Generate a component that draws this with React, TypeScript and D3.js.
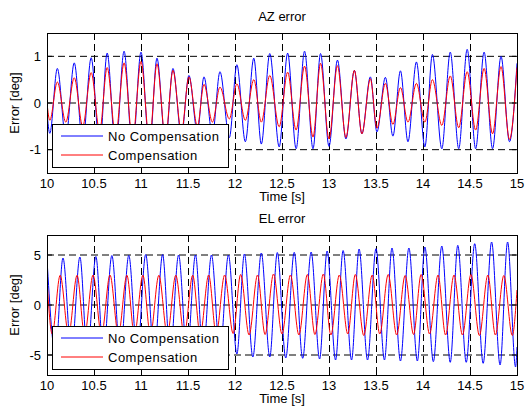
import { useEffect, useRef } from 'react'
import * as d3 from 'd3'

// AZ error: extrema (time [s], error [deg])
const azTime = [
  10.0, 10.03, 10.11, 10.2, 10.29, 10.38, 10.47, 10.56, 10.64, 10.73, 10.82, 10.91, 11.0, 11.09, 11.17,
  11.26, 11.34, 11.43, 11.51, 11.6, 11.67, 11.76, 11.84, 11.94, 12.02, 12.11, 12.2, 12.28, 12.37, 12.47,
  12.56, 12.65, 12.74, 12.83, 12.91, 13.0, 13.09, 13.18, 13.27, 13.35, 13.44, 13.51, 13.6, 13.68, 13.76,
  13.84, 13.93, 14.02, 14.1, 14.2, 14.29, 14.38, 14.47, 14.56, 14.65, 14.74, 14.83, 14.92, 15.0,
]
const azNoComp = [
  -0.2, -0.65, 0.74, -0.75, 0.86, -0.85, 0.97, -0.95, 1.07, -1.0, 1.11, -1.02, 1.09, -0.98, 0.96,
  -0.85, 0.74, -0.7, 0.59, -0.62, 0.56, -0.68, 0.67, -0.74, 0.82, -0.83, 0.96, -0.88, 1.06, -0.94,
  1.07, -0.98, 1.11, -0.98, 1.06, -0.93, 0.92, -0.77, 0.7, -0.66, 0.56, -0.62, 0.55, -0.71, 0.69,
  -0.83, 0.88, -0.94, 1.04, -0.98, 1.09, -0.98, 1.15, -0.98, 1.09, -0.98, 1.0, -0.83, 0.85,
]
const azComp = [
  0.0, -0.37, 0.45, -0.41, 0.54, -0.5, 0.65, -0.6, 0.76, -0.7, 0.86, -0.78, 0.89, -0.8, 0.84,
  -0.75, 0.7, -0.62, 0.56, -0.5, 0.4, -0.41, 0.34, -0.34, 0.41, -0.37, 0.5, -0.41, 0.59, -0.51,
  0.66, -0.58, 0.79, -0.73, 0.85, -0.77, 0.8, -0.74, 0.7, -0.66, 0.52, -0.54, 0.42, -0.46, 0.33,
  -0.41, 0.42, -0.41, 0.5, -0.48, 0.58, -0.53, 0.67, -0.58, 0.74, -0.66, 0.78, -0.78, 0.76,
]

// EL error: no compensation extrema
const elTimeNoComp = [
  10.0, 10.09, 10.17, 10.26, 10.35, 10.43, 10.52, 10.6, 10.69, 10.78, 10.87, 10.96, 11.05, 11.14, 11.23,
  11.31, 11.4, 11.49, 11.58, 11.66, 11.75, 11.84, 11.93, 12.02, 12.1, 12.19, 12.28, 12.37, 12.45, 12.54,
  12.63, 12.72, 12.81, 12.9, 12.98, 13.07, 13.15, 13.24, 13.32, 13.41, 13.5, 13.59, 13.67, 13.76, 13.85,
  13.94, 14.02, 14.11, 14.2, 14.29, 14.37, 14.46, 14.55, 14.64, 14.73, 14.82, 14.9, 14.985, 15.0,
]
const elNoComp = [
  4.6, -4.9, 4.7, -4.9, 4.8, -5.0, 4.85, -5.0, 4.95, -5.0, 4.97, -5.0, 5.05, -5.0, 5.05,
  -5.0, 5.0, -5.0, 5.0, -5.0, 5.0, -4.9, 5.0, -4.9, 5.1, -5.2, 5.2, -5.2, 5.25, -5.3,
  5.27, -5.33, 5.3, -5.4, 5.4, -5.5, 5.45, -5.5, 5.6, -5.5, 5.63, -5.5, 5.7, -5.6, 5.7,
  -5.6, 5.8, -5.67, 5.9, -5.73, 5.97, -5.73, 6.13, -5.83, 6.3, -6.0, 6.3, -6.2, -4.2,
]

// EL error: compensation extrema (leads the uncompensated signal a little)
const elTimeComp = [
  10.0, 10.055, 10.14, 10.23, 10.32, 10.4, 10.49, 10.58, 10.67, 10.76, 10.85, 10.93, 11.02, 11.1, 11.19,
  11.28, 11.37, 11.46, 11.55, 11.63, 11.72, 11.8, 11.89, 11.98, 12.06, 12.15, 12.24, 12.32, 12.41, 12.5,
  12.59, 12.68, 12.77, 12.85, 12.94, 13.02, 13.11, 13.2, 13.28, 13.37, 13.46, 13.54, 13.63, 13.72, 13.81,
  13.9, 13.98, 14.07, 14.16, 14.24, 14.33, 14.42, 14.51, 14.6, 14.69, 14.77, 14.86, 14.95, 15.0,
]
const elComp = [
  2.5, -2.9, 2.97, -2.95, 2.97, -3.0, 3.0, -3.0, 3.0, -2.95, 2.97, -3.0, 2.97, -3.0, 2.97,
  -2.95, 2.97, -3.0, 2.97, -2.95, 3.0, -2.9, 3.0, -2.85, 3.05, -3.0, 3.0, -2.95, 3.1, -2.9,
  3.0, -3.0, 3.05, -2.95, 3.1, -3.0, 3.0, -2.9, 3.05, -3.05, 3.0, -2.9, 3.05, -3.0, 2.95,
  -2.95, 3.05, -2.9, 3.0, -3.0, 3.0, -3.0, 3.05, -3.05, 3.0, -3.0, 2.95, -3.05, 1.5,
]

const xTicks = [10, 10.5, 11, 11.5, 12, 12.5, 13, 13.5, 14, 14.5, 15]
const azTicks = [-1, 0, 1]
const elTicks = [-5, 0, 5]
const legendLabels = ['No Compensation', 'Compensation']
const seriesColors = ['#0000ff', '#ff0000']

const FONT = '"Liberation Sans", Arial, sans-serif'

type Panel = {
  id: string
  title: string
  top: number
  bottom: number
  yDomain: [number, number]
  yTicks: number[]
  series: { t: number[]; v: number[] }[]
}

function drawPanel(svg: any, x: d3.ScaleLinear<number, number>, p: Panel) {
  const [x0, x1] = x.range()
  const y = d3.scaleLinear().domain(p.yDomain).range([p.bottom, p.top])
  const g = svg.append('g')

  svg
    .append('clipPath')
    .attr('id', p.id)
    .append('rect')
    .attr('x', x0)
    .attr('y', p.top)
    .attr('width', x1 - x0)
    .attr('height', p.bottom - p.top)

  // grid
  g.selectAll('.vgrid')
    .data(xTicks.slice(1, -1))
    .join('line')
    .attr('x1', (d: number) => Math.round(x(d)) + 0.5)
    .attr('x2', (d: number) => Math.round(x(d)) + 0.5)
    .attr('y1', p.top)
    .attr('y2', p.bottom)
    .attr('stroke', '#000')
    .attr('stroke-dasharray', '7,4')
  g.selectAll('.hgrid')
    .data(p.yTicks)
    .join('line')
    .attr('x1', x0)
    .attr('x2', x1)
    .attr('y1', (d: number) => y(d))
    .attr('y2', (d: number) => y(d))
    .attr('stroke', '#000')
    .attr('stroke-dasharray', '7,4')

  // data
  const line = d3
    .line<[number, number]>()
    .x(d => x(d[0]))
    .y(d => y(d[1]))
    .curve(d3.curveMonotoneX)
  p.series.forEach((s, i) => {
    g.append('path')
      .attr('d', line(d3.zip(s.t, s.v) as [number, number][]))
      .attr('fill', 'none')
      .attr('stroke', seriesColors[i])
      .attr('stroke-width', 1)
      .attr('clip-path', `url(#${p.id})`)
  })

  // box + inward ticks
  g.append('rect')
    .attr('x', x0 + 0.5)
    .attr('y', p.top + 0.5)
    .attr('width', x1 - x0)
    .attr('height', p.bottom - p.top)
    .attr('fill', 'none')
    .attr('stroke', '#000')
  xTicks.forEach(t => {
    const xx = Math.round(x(t)) + 0.5
    g.append('line').attr('x1', xx).attr('x2', xx).attr('y1', p.bottom).attr('y2', p.bottom - 5).attr('stroke', '#000')
    g.append('line').attr('x1', xx).attr('x2', xx).attr('y1', p.top).attr('y2', p.top + 5).attr('stroke', '#000')
  })
  p.yTicks.forEach(v => {
    g.append('line').attr('x1', x0).attr('x2', x0 + 5).attr('y1', y(v)).attr('y2', y(v)).attr('stroke', '#000')
    g.append('line').attr('x1', x1).attr('x2', x1 - 5).attr('y1', y(v)).attr('y2', y(v)).attr('stroke', '#000')
  })

  const txt = g.append('g').style('font-family', FONT).style('font-size', '13px').attr('fill', '#000')

  txt.selectAll('.xt')
    .data(xTicks)
    .join('text')
    .attr('x', (d: number) => x(d))
    .attr('y', p.bottom + 14.5)
    .attr('text-anchor', 'middle')
    .text((d: number) => String(d))
  txt.selectAll('.yt')
    .data(p.yTicks)
    .join('text')
    .attr('x', x0 - 6)
    .attr('y', (d: number) => y(d) + 4.5)
    .attr('text-anchor', 'end')
    .text((d: number) => String(d))

  const cx = (x0 + x1) / 2
  txt.append('text').attr('x', cx).attr('y', p.top - 12).attr('text-anchor', 'middle').text(p.title)
  txt.append('text').attr('x', cx).attr('y', p.bottom + 28).attr('text-anchor', 'middle').text('Time [s]')
  txt.append('text')
    .attr('transform', `translate(18.5, ${(p.top + p.bottom) / 2}) rotate(-90)`)
    .attr('text-anchor', 'middle')
    .text('Error [deg]')

  // legend
  const lg = g.append('g').attr('transform', `translate(52, ${p.bottom - 49})`)
  lg.append('rect')
    .attr('x', 0.5)
    .attr('y', 0.5)
    .attr('width', 176)
    .attr('height', 43)
    .attr('fill', '#fff')
    .attr('stroke', '#000')
  legendLabels.forEach((label, i) => {
    const ly = 12 + i * 19
    lg.append('line').attr('x1', 9).attr('x2', 51).attr('y1', ly).attr('y2', ly).attr('stroke', seriesColors[i])
    lg.append('text')
      .attr('x', 56)
      .attr('y', ly + 4.5)
      .style('font-family', FONT)
      .style('font-size', '13px')
      .style('letter-spacing', '0.5px')
      .text(label)
  })
}

export default function App() {
  const svgRef = useRef<SVGSVGElement>(null)

  useEffect(() => {
    if (!svgRef.current) return
    const width = 525
    const height = 410

    const svg = d3.select(svgRef.current)
    svg.selectAll('*').remove()
    svg.append('rect').attr('width', width).attr('height', height).attr('fill', '#fff')

    const x = d3.scaleLinear().domain([10, 15]).range([47, 517])

    drawPanel(svg, x, {
      id: 'clip-az',
      title: 'AZ error',
      top: 33,
      bottom: 173,
      yDomain: [-1.5, 1.5],
      yTicks: azTicks,
      series: [
        { t: azTime, v: azNoComp },
        { t: azTime, v: azComp },
      ],
    })

    drawPanel(svg, x, {
      id: 'clip-el',
      title: 'EL error',
      top: 235,
      bottom: 375,
      yDomain: [-7, 7],
      yTicks: elTicks,
      series: [
        { t: elTimeNoComp, v: elNoComp },
        { t: elTimeComp, v: elComp },
      ],
    })
  }, [])

  return (
    <svg
      ref={svgRef}
      width={525}
      height={410}
      style={{ position: 'absolute', left: 0, top: 0, display: 'block' }}
    />
  )
}
